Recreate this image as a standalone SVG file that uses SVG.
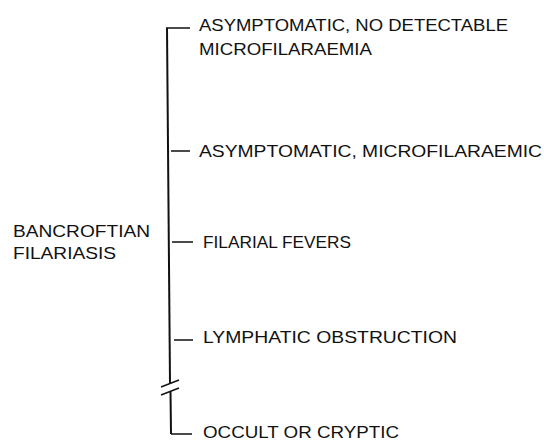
<svg xmlns="http://www.w3.org/2000/svg" width="544" height="442" viewBox="0 0 544 442">
<style>
text{font-family:"Liberation Sans",Arial,sans-serif;font-size:17px;fill:#111}
.v{stroke:#111;stroke-width:2;fill:none}
.t{stroke:#111;stroke-width:1.4;fill:none}
</style>
<rect width="544" height="442" fill="#fff"/>
<g id="root"><text x="13" y="237" textLength="137" lengthAdjust="spacingAndGlyphs">BANCROFTIAN</text><text x="13" y="259" textLength="103" lengthAdjust="spacingAndGlyphs">FILARIASIS</text></g>
<g id="connectors">
<path class="v" d="M167,28 L170,383"/>
<path class="v" d="M170.5,391 L171,434"/>
<path class="t" d="M161,387 L179,380 M161,395 L179,388"/>
<path class="t" d="M166,28 H190 M171,151 H190 M172,242 H193 M174,340 H193 M171,434 H192"/>
</g>
<g id="n1"><text x="199" y="31" textLength="309" lengthAdjust="spacingAndGlyphs">ASYMPTOMATIC, NO DETECTABLE</text><text x="199" y="55" textLength="173" lengthAdjust="spacingAndGlyphs">MICROFILARAEMIA</text></g>
<g id="n2"><text x="199" y="157" textLength="343" lengthAdjust="spacingAndGlyphs">ASYMPTOMATIC, MICROFILARAEMIC</text></g>
<g id="n3"><text x="203" y="248" textLength="148" lengthAdjust="spacingAndGlyphs">FILARIAL FEVERS</text></g>
<g id="n4"><text x="203" y="343" textLength="254" lengthAdjust="spacingAndGlyphs">LYMPHATIC OBSTRUCTION</text></g>
<g id="n5"><text x="203" y="438" textLength="196" lengthAdjust="spacingAndGlyphs">OCCULT OR CRYPTIC</text></g>
</svg>
